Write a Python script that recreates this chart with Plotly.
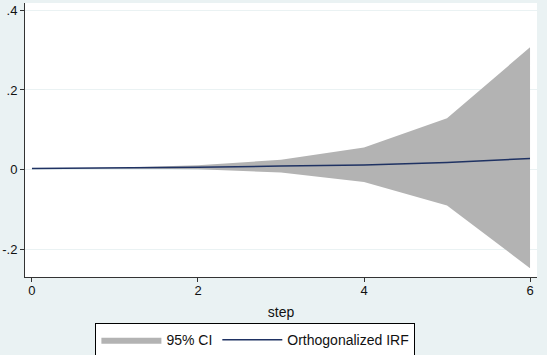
import plotly.graph_objects as go

steps = [0, 1, 2, 3, 4, 5, 6]
irf = [0.003, 0.004, 0.006, 0.009, 0.012, 0.018, 0.028]
ci_upper = [0.003, 0.005, 0.011, 0.025, 0.056, 0.129, 0.307]
ci_lower = [0.003, 0.003, 0.001, -0.007, -0.031, -0.090, -0.247]
yticks = [-0.2, 0, 0.2, 0.4]
yticklabels = ["-.2", "0", ".2", ".4"]
xticks = [0, 2, 4, 6]

fig = go.Figure()
fig.add_trace(go.Scatter(
    x=steps + steps[::-1], y=ci_upper + ci_lower[::-1],
    fill="toself", fillcolor="#B3B3B3", line=dict(width=0, color="#B3B3B3"),
    mode="lines", name="95% CI", hoverinfo="skip"))
fig.add_trace(go.Scatter(
    x=steps, y=irf, mode="lines", line=dict(color="#1F3263", width=1.5),
    name="Orthogonalized IRF"))

fig.update_layout(
    width=547, height=355,
    margin=dict(l=25, r=10, t=3, b=78, autoexpand=False),
    paper_bgcolor="#EAF2F3", plot_bgcolor="white",
    font=dict(family="Liberation Sans, Arial", size=13, color="#111"),
    showlegend=True,
    legend=dict(orientation="h", x=0.45, xanchor="center", y=-0.168, yanchor="top",
                bordercolor="black", borderwidth=1, bgcolor="white",
                font=dict(size=14), itemwidth=60),
    xaxis=dict(range=[-0.084, 6.084], tickvals=xticks, ticks="outside", ticklen=4,
               tickcolor="#333", showgrid=False, zeroline=False, showline=True,
               linecolor="#333", linewidth=1, automargin=False, ticklabelstandoff=-3,
               title=dict(text="step", font=dict(size=14), standoff=10)),
    yaxis=dict(range=[-0.269, 0.418], tickvals=yticks, ticktext=yticklabels,
               ticks="outside", ticklen=4, tickcolor="#333", showgrid=True,
               gridcolor="#EAF2F3", zeroline=False, showline=True, linecolor="#333",
               linewidth=1, automargin=False),
)
fig.write_html("out.html", config={"displayModeBar": False},
               post_script="document.body.style.margin='0';document.body.style.overflow='hidden';")
